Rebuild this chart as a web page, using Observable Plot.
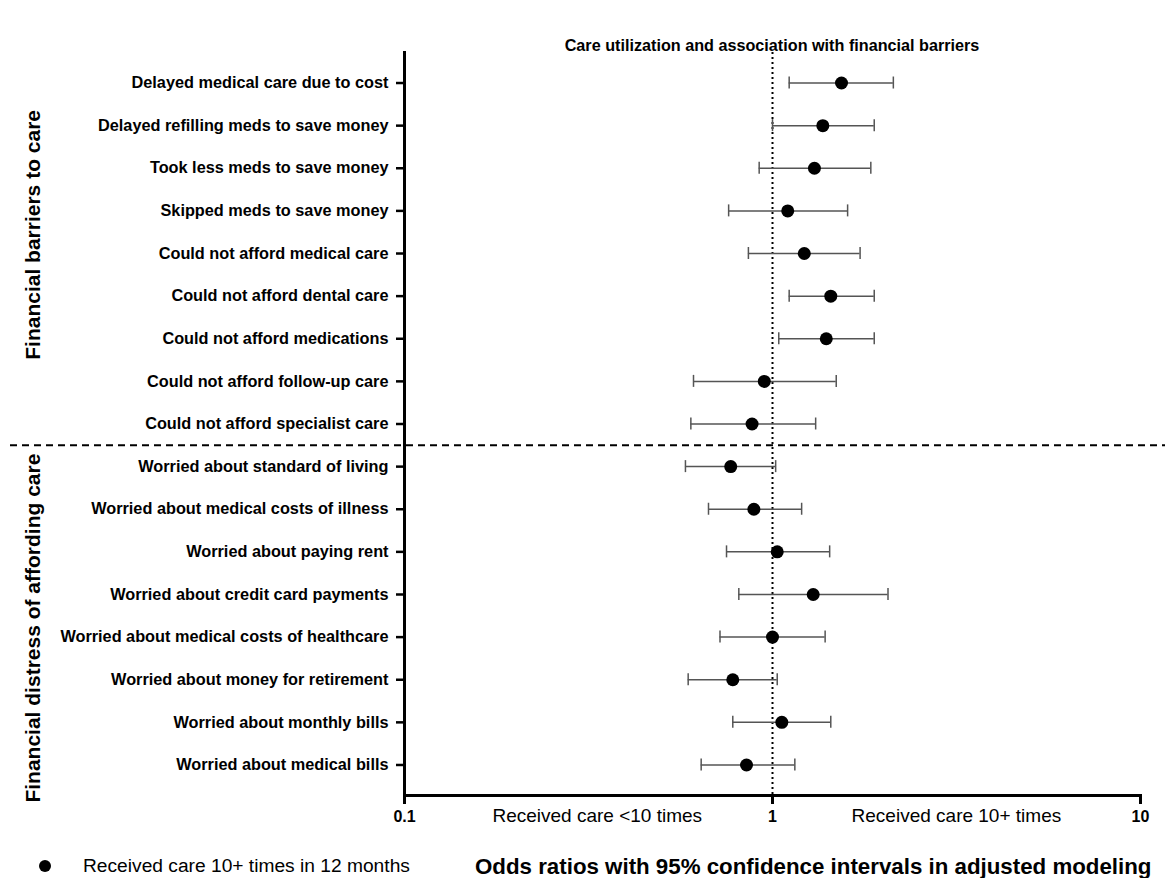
<!DOCTYPE html>
<html>
<head>
<meta charset="utf-8">
<script src="https://cdn.jsdelivr.net/npm/d3@7"></script>
<script src="https://cdn.jsdelivr.net/npm/@observablehq/plot@0.6"></script>
<style>
  html, body { margin: 0; padding: 0; background: #fff; }
  #wrap { position: relative; width: 1176px; height: 878px; font-family: "Liberation Sans", Arial, sans-serif; color: #000; }
  #chart { position: absolute; left: 0; top: 0; z-index: 0; }
  #title { position: absolute; z-index: 1; top: 36px; left: 404px; width: 736px; text-align: center; font-weight: bold; font-size: 16.2px; white-space: nowrap; }
  #legend { position: absolute; z-index: 1; top: 855px; left: 39px; font-size: 19.2px; display: flex; align-items: center; white-space: nowrap; }
  #legend .dot { width: 12px; height: 12px; border-radius: 50%; background: #000; margin-right: 32px; }
  #xlabel { position: absolute; z-index: 1; top: 854px; left: 475px; font-size: 22.3px; font-weight: bold; white-space: nowrap; }
</style>
</head>
<body>
<div id="wrap">
  <div id="chart"></div>
  <div id="title">Care utilization and association with financial barriers</div>
  <div id="legend"><span class="dot"></span><span>Received care 10+ times in 12 months</span></div>
  <div id="xlabel">Odds ratios with 95% confidence intervals in adjusted modeling</div>
</div>
<script>
const labels = [
  "Delayed medical care due to cost",
  "Delayed refilling meds to save money",
  "Took less meds to save money",
  "Skipped meds to save money",
  "Could not afford medical care",
  "Could not afford dental care",
  "Could not afford medications",
  "Could not afford follow-up care",
  "Could not afford specialist care",
  "Worried about standard of living",
  "Worried about medical costs of illness",
  "Worried about paying rent",
  "Worried about credit card payments",
  "Worried about medical costs of healthcare",
  "Worried about money for retirement",
  "Worried about monthly bills",
  "Worried about medical bills"
];
const oddsRatio = [1.54, 1.37, 1.30, 1.10, 1.22, 1.44, 1.40, 0.95, 0.88, 0.77, 0.89, 1.03, 1.29, 1.00, 0.78, 1.06, 0.85];
const ciLow     = [1.11, 1.00, 0.92, 0.76, 0.86, 1.11, 1.04, 0.61, 0.60, 0.58, 0.67, 0.75, 0.81, 0.72, 0.59, 0.78, 0.64];
const ciHigh    = [2.13, 1.89, 1.85, 1.60, 1.73, 1.89, 1.89, 1.49, 1.31, 1.02, 1.20, 1.43, 2.06, 1.39, 1.03, 1.44, 1.15];

const xTicks = [0.1, 1, 10];
const refValue = [1];
const annoLabels = ["Received care <10 times", "Received care 10+ times"];
const annoX = [0.334, 3.16];
const groupLabels = ["Financial barriers to care", "Financial distress of affording care"];
const groupAnchorRows = ["Skipped meds to save money", "Worried about medical costs of healthcare"];
const dividerRow = ["Could not afford specialist care"];

const data = labels.map((label, i) => ({label, or: oddsRatio[i], lo: ciLow[i], hi: ciHigh[i]}));

const font = '"Liberation Sans", Arial, sans-serif';
const H = 845, mTop = 52, mBottom = 50;
const step = (H - mTop - mBottom) / (labels.length + 2 * 0.216);

const chart = Plot.plot({
  width: 1176,
  height: H,
  marginTop: mTop,
  marginBottom: mBottom,
  marginLeft: 404,
  marginRight: 36,
  style: {fontFamily: font, fontSize: "16.3px", fontWeight: "bold", background: "transparent", color: "black", overflow: "visible"},
  x: {type: "log", domain: [0.1, 10]},
  y: {type: "band", domain: labels, paddingInner: 0, paddingOuter: 0.216, round: false},
  marks: [
    Plot.ruleX(refValue, {stroke: "black", strokeWidth: 2, strokeDasharray: "2,3"}),
    Plot.ruleY(dividerRow, {y: d => d, dy: step / 2, stroke: "black", strokeWidth: 2, strokeDasharray: "7,5", insetLeft: -394, insetRight: -25}),
    Plot.ruleY(data, {y: "label", x1: "lo", x2: "hi", stroke: "#555", strokeWidth: 1.5}),
    Plot.tickX(data, {x: "lo", y: "label", stroke: "#555", strokeWidth: 1.5, insetTop: (step - 12) / 2, insetBottom: (step - 12) / 2}),
    Plot.tickX(data, {x: "hi", y: "label", stroke: "#555", strokeWidth: 1.5, insetTop: (step - 12) / 2, insetBottom: (step - 12) / 2}),
    Plot.dot(data, {x: "or", y: "label", r: 6.5, fill: "black", stroke: "none"}),
    Plot.frame({anchor: "left", strokeWidth: 3}),
    Plot.frame({anchor: "bottom", strokeWidth: 3}),
    Plot.axisX({ticks: xTicks, tickFormat: d => String(d), tickSize: 9, tickPadding: 6, strokeWidth: 3, label: null, fontWeight: "bold", fontSize: 16}),
    Plot.axisY({tickSize: 8, tickPadding: 8, strokeWidth: 2.5, label: null, fontWeight: "bold", fontSize: 16.3}),
    Plot.text(annoLabels, {x: (d, i) => annoX[i], text: d => d, frameAnchor: "bottom", dy: 26, fontSize: 19, fontWeight: "normal"}),
    Plot.text([groupLabels[0]], {y: () => groupAnchorRows[0], text: d => d, frameAnchor: "left", textAnchor: "middle", dx: -371, dy: 24, rotate: -90, fontSize: 21, fontWeight: "bold"}),
    Plot.text([groupLabels[1]], {y: () => groupAnchorRows[1], text: d => d, frameAnchor: "left", textAnchor: "middle", dx: -371, dy: -9, rotate: -90, fontSize: 21, fontWeight: "bold"})
  ]
});
document.getElementById("chart").appendChild(chart);
</script>
</body>
</html>
